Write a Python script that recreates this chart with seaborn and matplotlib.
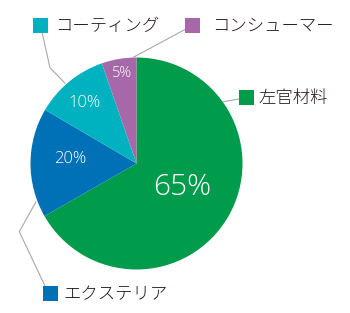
import numpy as np
import matplotlib
matplotlib.use("Agg")
import matplotlib.pyplot as plt
from matplotlib.patches import Rectangle
import seaborn as sns

# ---- data (wedge sizes as drawn in the picture; labels as printed) ----
categories = ["左官材料", "エクステリア", "コーティング", "コンシューマー"]
values = [66.7, 16.7, 11.25, 5.3]
pct_labels = ["65%", "20%", "10%", "5%"]
colors = ["#009b4b", "#0071b6", "#00b2c0", "#a668a9"]

sns.set_theme(style="white")
plt.rcParams['font.family'] = ['Noto Sans CJK JP', 'DejaVu Sans']

W, H = 350, 313
fig = plt.figure(figsize=(W / 100, H / 100), dpi=100)
ax = fig.add_axes([0, 0, 1, 1])

def Y(y):
    return H - y

cx, cy, R = 136.5, Y(163.5), 106
wedges, _ = ax.pie(values, colors=colors, startangle=90, counterclock=False,
                   center=(cx, cy), radius=R, frame=True,
                   wedgeprops=dict(linewidth=0))
ax.set_xlim(0, W)
ax.set_ylim(0, H)
ax.set_aspect('equal')
ax.axis('off')

# percentage labels inside wedges
pct_dist = [0.49, 0.63, 0.755, 0.857]
pct_dang = [2.8, -3.4, 1.2, -0.6]
pct_size = [21.5, 12, 12, 10.5]
for w, lab, d, da, fs in zip(wedges, pct_labels, pct_dist, pct_dang, pct_size):
    mid = np.deg2rad((w.theta1 + w.theta2) / 2 + da)
    ax.text(cx + R * d * np.cos(mid), cy + R * d * np.sin(mid), lab,
            color="white", fontsize=fs, ha="center", va="center",
            family=["Open Sans", "DejaVu Sans"], fontweight="light")

# legend-style callouts
line_c = "#a8a8a8"
callouts = [
    # (square x, square y(top), text x, text y center, leader points)
    (239, 90, 258, 96, [(223.3, 101.7), (239, 99)]),
    (43.3, 286, 63, 292, [(36, 201.7), (19.3, 231.7), (45, 286)]),
    (32.7, 18.3, 55, 24.5, [(65, 83.3), (50, 67.7), (41.7, 30.7)]),
    (185, 17.7, 211.7, 24, [(133.3, 57.3), (185, 29.5)]),
]
sq = 15
for (sx, sy, tx, ty, pts), cat, col in zip(callouts, categories, colors):
    xs = [p[0] for p in pts]
    ys = [Y(p[1]) for p in pts]
    ax.plot(xs, ys, color=line_c, lw=0.8, zorder=1)
    ax.add_patch(Rectangle((sx, Y(sy + sq)), sq, sq, facecolor=col,
                           edgecolor="none", zorder=3))
    ax.text(tx, Y(ty), cat, fontsize=12.5, color="#231815",
            ha="left", va="center_baseline", fontweight="light")

fig.savefig("out.png", dpi=100)
